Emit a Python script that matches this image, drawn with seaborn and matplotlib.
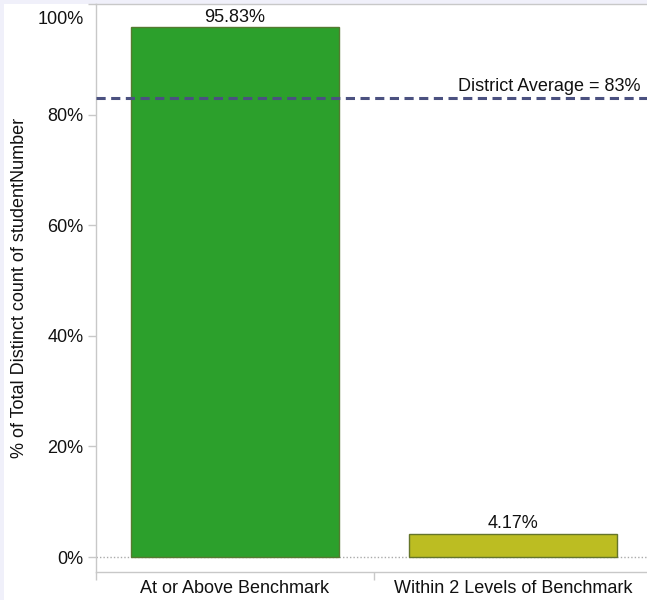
import matplotlib
matplotlib.use("Agg")
import matplotlib.pyplot as plt
import matplotlib.transforms as mtransforms
from matplotlib.patches import Rectangle
import seaborn as sns
import pandas as pd

categories = ["At or Above Benchmark", "Within 2 Levels of Benchmark"]
values = [95.83, 4.17]
value_labels = ["95.83%", "4.17%"]
bar_colors = ["#2ca02c", "#bcbd22"]
edge_colors = ["#557a30", "#65752a"]
district_avg = 83
avg_label = "District Average = 83%"
yticks = [0, 20, 40, 60, 80, 100]
ytick_labels = ["0%", "20%", "40%", "60%", "80%", "100%"]
ylabel = "% of Total Distinct count of studentNumber"

sns.set_theme(style="white")
plt.rcParams["font.family"] = ["Liberation Sans", "DejaVu Sans"]

FS = 13
W, H = 647, 600
fig = plt.figure(figsize=(W / 100, H / 100), dpi=100)
fig.patch.set_facecolor("#f0f0fa")
fig.patches.append(Rectangle((4 / W, 0), 1, 1 - 4 / H, transform=fig.transFigure,
                             facecolor="white", edgecolor="none", zorder=-10))

ax = fig.add_axes([96 / W, 28 / H, 556 / W, 568 / H])
ax.set_facecolor("none")

df = pd.DataFrame({"cat": categories, "val": values})
sns.barplot(data=df, x="cat", y="val", hue="cat", palette=bar_colors, width=0.75,
            saturation=1, legend=False, linewidth=1.0, ax=ax, zorder=3)
for p, ec in zip(ax.patches, edge_colors):
    p.set_edgecolor(ec)

ax.set_xlim(-0.5, 1.5)
ax.set_ylim(-2.71, 100)

# zero line (dotted)
ax.axhline(0, color="#aaaaaa", lw=1, ls=(0, (1, 1.5)), zorder=2)

# district average line
ax.axhline(district_avg, color="#4b5180", lw=2.2, ls=(0, (3.0, 1.8)), zorder=4)
ax.text(1 - 11 / 556, district_avg + 1.2, avg_label,
        transform=mtransforms.blended_transform_factory(ax.transAxes, ax.transData),
        ha="right", va="baseline", fontsize=FS, color="#111111")

# value labels
for i, (v, lab) in enumerate(zip(values, value_labels)):
    ax.text(i, v + 1.0, lab, ha="center", va="baseline", fontsize=FS, color="#111111")

# y axis
ax.set_yticks(yticks)
ax.set_yticklabels(ytick_labels)
ax.set_ylabel(ylabel, fontsize=FS, color="#111111")
ax.yaxis.set_label_coords(-68 / 556, 0.5)
ax.tick_params(axis="y", direction="out", length=6, width=1, color="#c8c8c8",
               labelsize=FS, labelcolor="#111111", pad=3, left=True)
for lab in ax.get_yticklabels():
    if lab.get_text() == "100%":
        lab.set_transform(lab.get_transform() + mtransforms.ScaledTranslation(0, -0.13, fig.dpi_scale_trans))

# x axis
ax.set_xlabel("")
ax.set_xticks([0, 1])
ax.set_xticklabels(categories)
ax.set_xticks([-0.5, 0.5, 1.5], minor=True)
ax.tick_params(axis="x", which="major", length=0, labelsize=FS, labelcolor="#111111", pad=6)
ax.tick_params(axis="x", which="minor", direction="out", length=6, width=1, color="#c8c8c8", bottom=True)

for side in ["left", "bottom", "top"]:
    ax.spines[side].set_visible(True)
    ax.spines[side].set_color("#c8c8c8")
    ax.spines[side].set_linewidth(1)
ax.spines["right"].set_visible(False)

fig.savefig("out.png", dpi=100, facecolor=fig.get_facecolor())
